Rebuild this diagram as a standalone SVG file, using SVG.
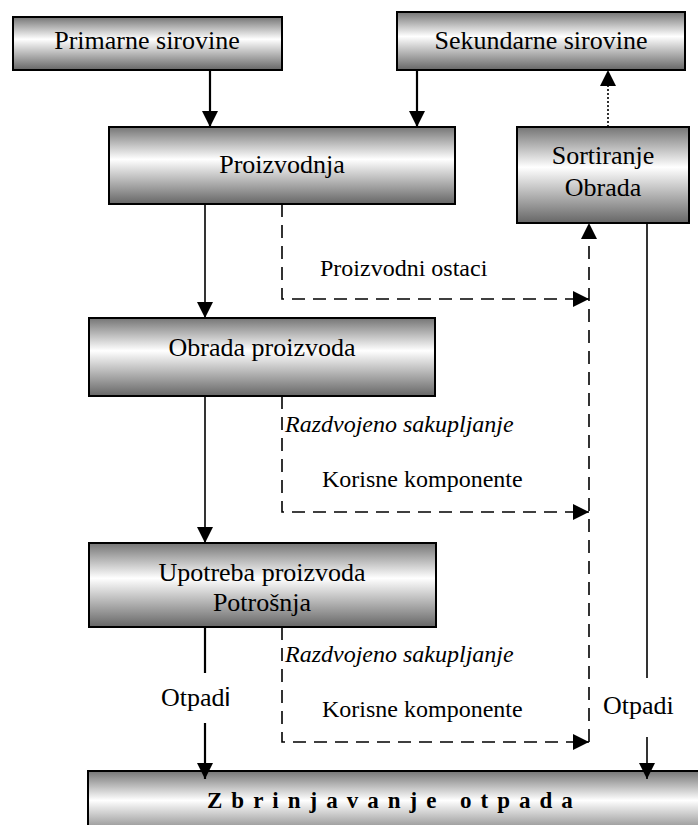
<svg xmlns="http://www.w3.org/2000/svg" width="698" height="825" viewBox="0 0 698 825">
<style>
.box{fill:url(#g);stroke:#000;stroke-width:2}
.t{font-family:"Liberation Serif","Times New Roman",serif;font-size:26px;fill:#000;text-anchor:middle}
.l{font-family:"Liberation Serif","Times New Roman",serif;font-size:24px;fill:#000}
.i{font-style:italic}
.c{fill:none;stroke:#000;stroke-width:1.6}
.s{stroke-width:2.2}
.d{stroke-dasharray:13 8}
.dot{stroke-dasharray:2 2}
</style>
<defs>
<linearGradient id="g" x1="0" y1="0" x2="0" y2="1">
<stop offset="0" stop-color="#757575"/>
<stop offset="0.42" stop-color="#ffffff"/>
<stop offset="1" stop-color="#666666"/>
</linearGradient>
<marker id="a" markerUnits="userSpaceOnUse" markerWidth="17" markerHeight="16" refX="16" refY="8" orient="auto">
<path d="M0,0 L16,8 L0,16 z" fill="#000"/>
</marker>
</defs>
<g id="primarne"><rect class="box" x="13" y="17" width="269" height="53"/><text class="t" x="147" y="49">Primarne sirovine</text></g>
<g id="sekundarne"><rect class="box" x="397" y="12" width="288" height="58"/><text class="t" x="541" y="49">Sekundarne sirovine</text></g>
<g id="proizvodnja"><rect class="box" x="109" y="127" width="346" height="77"/><text class="t" x="282" y="173">Proizvodnja</text></g>
<g id="sortiranje"><rect class="box" x="517" y="127" width="172" height="96"/><text class="t" x="603" y="164">Sortiranje</text><text class="t" x="603" y="196">Obrada</text></g>
<g id="obrada"><rect class="box" x="89" y="318" width="346" height="78"/><text class="t" x="262" y="356">Obrada proizvoda</text></g>
<g id="upotreba"><rect class="box" x="89" y="543" width="347" height="84"/><text class="t" x="262" y="581">Upotreba proizvoda</text><text class="t" x="262" y="611">Potrošnja</text></g>
<g id="zbrinjavanje"><rect class="box" x="88" y="771" width="625" height="70"/><text x="207" y="808" style="font-family:'Liberation Serif','Times New Roman',serif;font-size:23px;font-weight:bold;letter-spacing:9px">Zbrinjavanje otpada</text></g>
<g id="connectors">
<path class="c s" d="M210,70 V127" marker-end="url(#a)"/>
<path class="c s" d="M417,70 V127" marker-end="url(#a)"/>
<path class="c dot" d="M608,127 V70" marker-end="url(#a)"/>
<path class="c" d="M205,204 V318" marker-end="url(#a)"/>
<path class="c d" d="M282,204 V299 H589" marker-end="url(#a)"/>
<path class="c" d="M205,396 V543" marker-end="url(#a)"/>
<path class="c d" d="M282,396 V512 H589" marker-end="url(#a)"/>
<path class="c s" d="M205,627 V673"/>
<path class="c s" d="M205,723 V779" marker-end="url(#a)"/>
<path class="c d" d="M282,627 V742 H589" marker-end="url(#a)"/>
<path class="c d" d="M589,742 V223" marker-end="url(#a)"/>
<path class="c" d="M647,223 V678"/>
<path class="c" d="M647,737 V779" marker-end="url(#a)"/>
<text class="l" x="320" y="276">Proizvodni ostaci</text>
<text class="l i" x="285" y="432">Razdvojeno sakupljanje</text>
<text class="l" x="322" y="487">Korisne komponente</text>
<text class="l i" x="285" y="662">Razdvojeno sakupljanje</text>
<text class="l" x="322" y="717">Korisne komponente</text>
<text class="l" x="161" y="706" style="font-size:26px">Otpad<tspan style="font-family:'Liberation Sans',Arial,sans-serif">i</tspan></text>
<text class="l" x="603" y="714" style="font-size:26px">Otpadi</text>
</g>
</svg>
